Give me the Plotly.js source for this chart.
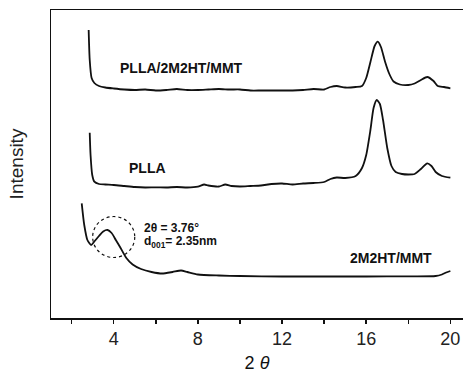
<!DOCTYPE html>
<html>
<head>
<meta charset="utf-8">
<script src="https://cdn.plot.ly/plotly-3.0.1.min.js"></script>
<style>html,body{margin:0;padding:0;background:#fff;}#chart{width:463px;height:373px;}</style>
</head>
<body>
<div id="chart"></div>
<script>
// 2θ (degrees) and intensity (arbitrary units, offset per curve)
const theta_composite = [2.81,2.86,2.95,3.08,3.3,3.6,4.0,4.5,5.0,5.5,6.0,6.5,7.0,7.5,8.0,8.5,9.0,9.5,10.0,10.5,11.0,11.5,12.0,12.5,13.0,13.5,14.0,14.3,14.6,15.0,15.5,15.8,16.0,16.2,16.4,16.55,16.7,16.9,17.1,17.3,17.6,18.0,18.3,18.6,18.9,19.2,19.4,19.7,20.0];
const int_composite   = [288,258,240,235,232,230.5,229.5,228.5,228,228.5,227.5,228,229,228,228,228.5,229,228.5,228.5,227.5,227.5,227.5,227.5,227.5,228,229,228.5,231,232,230.5,231,232,240,256,272,276.3,271,256,244,236.5,233.5,233,234.5,238,241,237,232,231,229.7];

const theta_plla = [2.86,2.9,2.98,3.08,3.3,3.6,4.0,4.5,5.0,5.5,6.0,6.5,7.0,7.5,8.0,8.3,8.5,9.0,9.3,9.6,10.0,10.5,11.0,11.5,12.0,12.5,13.0,13.5,14.0,14.3,14.6,15.0,15.5,15.8,16.0,16.2,16.35,16.5,16.65,16.8,17.0,17.2,17.4,17.7,18.0,18.3,18.6,18.9,19.1,19.3,19.6,20.0];
const int_plla   = [185.3,163,143,136.3,134,133.5,133,132,131,130.5,130.7,130.5,131,130.5,131.3,133.5,132.5,131.5,133.5,132,131.5,132,132.5,134,134.5,133.5,134.5,135,136,139,140.5,140,142,150,163,188,210,218,214,198,170,152,146,144,143.5,144,149,154.7,152,146,142,140.3];

const theta_clay = [2.48,2.6,2.75,2.93,3.1,3.3,3.5,3.71,3.9,4.1,4.3,4.6,4.9,5.3,5.8,6.3,6.8,7.2,7.5,8.0,9.0,10.0,12.0,14.0,16.0,18.0,19.3,19.6,19.8,20.0];
const int_clay   = [114.7,93,78,73,77,82,86.5,88,85,78,71,60,53.5,49,46,44.5,46,47.5,46,43.5,42.5,42,41.5,41.5,41.5,41.7,42,43.5,45.5,47];

const major_tick_step = 4;
const minor_tick_step = 2;

const series_names = ['PLLA/2M2HT/MMT','PLLA','2M2HT/MMT'];
const peak_text = ['2θ = 3.76°','d<sub>001</sub>= 2.35nm'];

const lineStyle = {color:'#111', width:1.8, shape:'spline', smoothing:0.6};
const traces = [
  {x:theta_composite, y:int_composite, name:series_names[0]},
  {x:theta_plla, y:int_plla, name:series_names[1]},
  {x:theta_clay, y:int_clay, name:series_names[2]}
].map(t => Object.assign(t, {type:'scatter', mode:'lines', line:lineStyle, hoverinfo:'skip'}));

const lblFont = {family:'Liberation Sans, Arial, sans-serif', size:14, color:'#111', weight:'bold'};
const annFont = {family:'Liberation Sans, Arial, sans-serif', size:12, color:'#111', weight:'bold'};

const layout = {
  width:463, height:373,
  margin:{l:51, r:0, t:10, b:55},
  paper_bgcolor:'#fff', plot_bgcolor:'#fff',
  showlegend:false,
  font:{family:'Liberation Sans, Arial, sans-serif', color:'#111'},
  xaxis:{
    range:[1.02,20.6], showgrid:false, zeroline:false,
    showline:true, linecolor:'#111', linewidth:1.5, mirror:true,
    tickmode:'linear', tick0:0, dtick:major_tick_step,
    ticks:'outside', ticklen:4, tickwidth:1.5, tickcolor:'#111',
    minor:{tickmode:'linear', tick0:0, dtick:minor_tick_step, ticks:'outside', ticklen:4, tickwidth:1.5, tickcolor:'#111', showgrid:false},
    tickfont:{size:18, color:'#222'},
    title:{text:'2 <i>θ</i>', font:{size:18, color:'#111'}, standoff:8},
    automargin:false
  },
  yaxis:{
    range:[0,308], showgrid:false, zeroline:false,
    showline:true, linecolor:'#111', linewidth:1.5, mirror:false,
    ticks:'', showticklabels:false,
    title:{text:'Intensity', font:{size:19, color:'#222'}, standoff:21},
    automargin:false
  },
  annotations:[
    {x:4.19, y:250, xref:'x', yref:'y', text:series_names[0], showarrow:false, xanchor:'left', yanchor:'middle', font:lblFont},
    {x:4.62, y:150, xref:'x', yref:'y', text:series_names[1], showarrow:false, xanchor:'left', yanchor:'middle', font:lblFont},
    {x:15.12, y:60, xref:'x', yref:'y', text:series_names[2], showarrow:false, xanchor:'left', yanchor:'middle', font:lblFont},
    {x:5.33, y:90, xref:'x', yref:'y', text:peak_text[0], showarrow:false, xanchor:'left', yanchor:'middle', font:annFont},
    {x:5.33, y:76, xref:'x', yref:'y', text:peak_text[1], showarrow:false, xanchor:'left', yanchor:'middle', font:annFont}
  ],
  shapes:[
    {type:'circle', xref:'x', yref:'y', x0:3.0, x1:5.0, y0:60.5, y1:101.5, line:{color:'#111', width:1.2, dash:'dot'}}
  ]
};

Plotly.newPlot('chart', traces, layout, {staticPlot:true, displayModeBar:false});
</script>
</body>
</html>
